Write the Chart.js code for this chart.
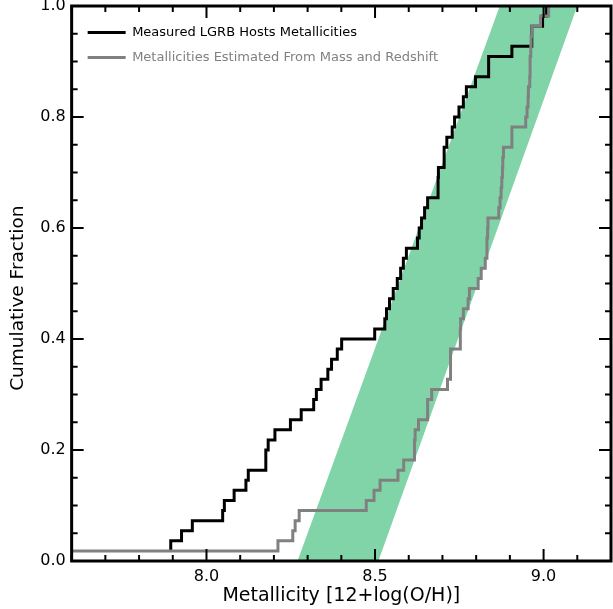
<!DOCTYPE html>
<html>
<head>
<meta charset="utf-8">
<script src="https://cdn.jsdelivr.net/npm/chart.js@4.4.1/dist/chart.umd.min.js"></script>
<style>
  html, body { margin: 0; padding: 0; background: #fff; }
  #wrap { width: 613px; height: 609px; }
</style>
</head>
<body>
<div id="wrap"><canvas id="graph" width="613" height="609"></canvas></div>
<script>
// sorted metallicities, one per host (cumulative step = 1/N)
var measured = [
  7.894, 7.894, 7.926, 7.958, 8.048, 8.053, 8.082, 8.117, 8.124, 8.176,
  8.176, 8.183, 8.203, 8.249, 8.281, 8.318, 8.326, 8.340, 8.360, 8.371,
  8.388, 8.401, 8.499, 8.529, 8.534, 8.543, 8.554, 8.566, 8.576, 8.584,
  8.593, 8.626, 8.631, 8.638, 8.647, 8.656, 8.687, 8.687, 8.688, 8.705,
  8.705, 8.713, 8.729, 8.736, 8.749, 8.762, 8.771, 8.798, 8.837, 8.837,
  8.906, 8.965, 8.965, 8.997, 9.009
];
var estimated = [
  7.600, 8.212, 8.256, 8.263, 8.275, 8.474, 8.497, 8.515, 8.568, 8.585,
  8.617, 8.617, 8.619, 8.629, 8.656, 8.656, 8.668, 8.715, 8.724, 8.724,
  8.724, 8.753, 8.753, 8.754, 8.762, 8.776, 8.780, 8.806, 8.815, 8.827,
  8.832, 8.832, 8.834, 8.835, 8.867, 8.871, 8.874, 8.876, 8.878, 8.879,
  8.881, 8.906, 8.906, 8.947, 8.951, 8.954, 8.955, 8.959, 8.960, 8.960,
  8.962, 8.963, 8.965, 8.991, 9.015
];

// green band: x of its edges at fraction 0 and at fraction 1
var bandFrac  = [0, 1];
var bandLeft  = [8.27, 8.87];
var bandRight = [8.51, 9.10];

var labelMeasured  = 'Measured LGRB Hosts Metallicities';
var labelEstimated = 'Metallicities Estimated From Mass and Redshift';

var xMajorTicks = [8.0, 8.5, 9.0];
var xMinorTicks = [7.6, 7.7, 7.8, 7.9, 8.0, 8.1, 8.2, 8.3, 8.4, 8.5, 8.6, 8.7, 8.8, 8.9, 9.0, 9.1, 9.2];
var yMajorTicks = [0.0, 0.2, 0.4, 0.6, 0.8, 1.0];
var yMinorTicks = [0.0, 0.05, 0.1, 0.15, 0.2, 0.25, 0.3, 0.35, 0.4, 0.45, 0.5,
                   0.55, 0.6, 0.65, 0.7, 0.75, 0.8, 0.85, 0.9, 0.95, 1.0];

function cumulative(vals) {
  var pts = [];
  for (var i = 0; i < vals.length; i++) {
    pts.push({x: vals[i], y: (i + 1) / vals.length});
  }
  return pts;
}

var bandPoints = [
  {x: bandLeft[0],  y: bandFrac[0]},
  {x: bandLeft[1],  y: bandFrac[1]},
  {x: bandRight[1], y: bandFrac[1]},
  {x: bandRight[0], y: bandFrac[0]}
];

// IDL style frame with inward ticks on all four sides
var frameTicks = {
  id: 'frameTicks',
  beforeDraw: function(chart) {
    // legend sits inside the frame, a bit below the top axis
    chart.legend.top = chart.chartArea.top + 8;
    chart.legend.left = chart.chartArea.left + 4;
  },
  afterDatasetsDraw: function(chart) {
    var ctx = chart.ctx;
    var a = chart.chartArea;
    var xs = chart.scales.x, ys = chart.scales.y;
    ctx.save();
    ctx.strokeStyle = '#000';
    ctx.lineWidth = 2;
    function mark(x1, y1, x2, y2) {
      ctx.beginPath(); ctx.moveTo(x1, y1); ctx.lineTo(x2, y2); ctx.stroke();
    }
    xMinorTicks.forEach(function(v) {
      var len = xMajorTicks.indexOf(v) >= 0 ? 12 : 6;
      var px = xs.getPixelForValue(v);
      mark(px, a.bottom, px, a.bottom - len);
      mark(px, a.top, px, a.top + len);
    });
    yMinorTicks.forEach(function(v) {
      var len = yMajorTicks.indexOf(v) >= 0 ? 12 : 6;
      var py = ys.getPixelForValue(v);
      mark(a.left, py, a.left + len, py);
      mark(a.right, py, a.right - len, py);
    });
    ctx.lineWidth = 3;
    ctx.strokeRect(a.left, a.top, a.right - a.left, a.bottom - a.top);
    ctx.restore();
  }
};

Chart.defaults.font.family = 'DejaVu Sans';
Chart.defaults.color = '#000';

var ctx = document.getElementById('graph').getContext('2d');
new Chart(ctx, {
  type: 'scatter',
  data: {
    datasets: [
      {
        label: labelMeasured,
        data: cumulative(measured),
        showLine: true,
        stepped: 'before',
        borderColor: '#000000',
        backgroundColor: '#000000',
        borderWidth: 3,
        pointRadius: 0,
        fill: false,
        order: 1
      },
      {
        label: labelEstimated,
        data: cumulative(estimated),
        showLine: true,
        stepped: 'before',
        borderColor: '#808080',
        backgroundColor: '#808080',
        borderWidth: 3,
        pointRadius: 0,
        fill: false,
        order: 0
      },
      {
        label: 'band',
        data: bandPoints,
        showLine: true,
        borderWidth: 0,
        borderColor: 'rgba(0,0,0,0)',
        backgroundColor: '#80d4a8',
        pointRadius: 0,
        fill: 'shape',
        order: 2
      }
    ]
  },
  options: {
    responsive: false,
    animation: false,
    layout: { padding: { left: 0, right: 2, top: 6, bottom: 0 } },
    plugins: {
      tooltip: { enabled: false },
      legend: {
        position: 'chartArea',
        align: 'start',
        labels: {
          boxWidth: 38,
          boxHeight: 3,
          padding: 12,
          font: { size: 13 },
          sort: function(a, b) { return a.datasetIndex - b.datasetIndex; },
          generateLabels: function(chart) {
            var items = Chart.defaults.plugins.legend.labels.generateLabels(chart);
            return items.filter(function(it) { return it.datasetIndex < 2; }).map(function(it) {
              var ds = chart.data.datasets[it.datasetIndex];
              it.fillStyle = ds.borderColor;
              it.strokeStyle = ds.borderColor;
              it.lineWidth = 0;
              it.fontColor = ds.borderColor;
              return it;
            });
          }
        }
      }
    },
    scales: {
      x: {
        type: 'linear',
        min: 7.6,
        max: 9.2,
        grid: { display: false, drawTicks: false },
        border: { display: false },
        afterBuildTicks: function(s) { s.ticks = xMajorTicks.map(function(v) { return {value: v}; }); },
        ticks: {
          padding: 8,
          font: { size: 16, lineHeight: 1 },
          callback: function(v) { return Number(v).toFixed(1); }
        },
        title: {
          display: true,
          text: 'Metallicity [12+log(O/H)]',
          font: { size: 19, lineHeight: '6px' },
          padding: { top: 0, bottom: 10 }
        }
      },
      y: {
        type: 'linear',
        min: 0,
        max: 1,
        grid: { display: false, drawTicks: false },
        border: { display: false },
        afterBuildTicks: function(s) { s.ticks = yMajorTicks.map(function(v) { return {value: v}; }); },
        afterFit: function(s) { s.paddingTop = 0; s.paddingBottom = 0; },
        ticks: {
          padding: 6,
          font: { size: 16 },
          callback: function(v) { return Number(v).toFixed(1); }
        },
        title: {
          display: true,
          text: 'Cumulative Fraction     ',
          font: { size: 18.5 },
          padding: { top: 7, bottom: 5 }
        }
      }
    }
  },
  plugins: [frameTicks]
});
</script>
</body>
</html>
